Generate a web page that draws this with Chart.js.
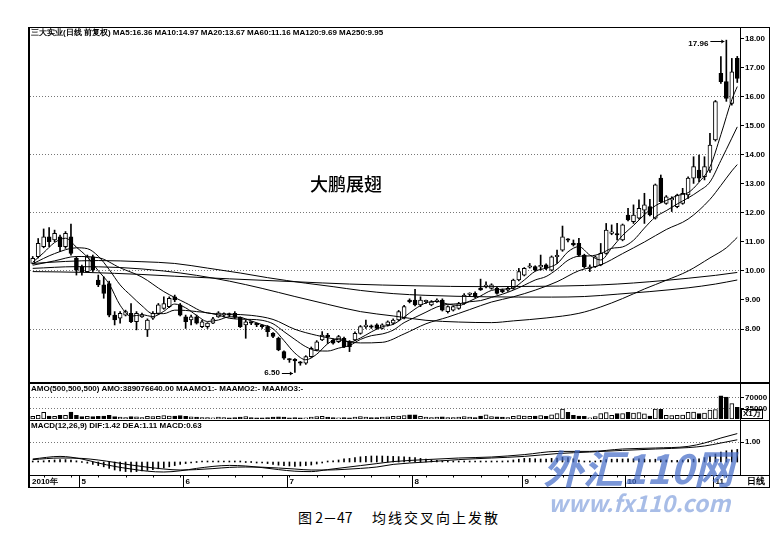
<!DOCTYPE html>
<html>
<head>
<meta charset="utf-8">
<title>均线交叉向上发散</title>
<script src="https://cdn.jsdelivr.net/npm/chart.js@4.4.1/dist/chart.umd.min.js"></script>
<style>
  html, body { margin: 0; padding: 0; background: #fff; }
  body { width: 781px; height: 560px; position: relative; overflow: hidden; font-family: "Liberation Sans", Arial, sans-serif; }
  canvas { position: absolute; left: 0; }
  .t { position: absolute; white-space: nowrap; color: #000; }
  .hdr { font-size: 8px; font-weight: bold; line-height: 10px; }
  .ln { position: absolute; background: #000; }
  .wm { position: absolute; white-space: nowrap; color: rgba(70, 110, 200, 0.72); font-family: "Noto Sans CJK SC", sans-serif; font-weight: bold; font-style: italic; }
</style>
</head>
<body>
<canvas id="mainChart" width="770" height="355" style="top:28px"></canvas>
<canvas id="volChart" width="770" height="37" style="top:383px"></canvas>
<canvas id="macdChart" width="770" height="68" style="top:420px"></canvas>

<!-- frame -->
<div class="ln" style="left:28px;top:27px;width:2px;height:461px"></div>
<div class="ln" style="left:28px;top:27px;width:742px;height:1px"></div>
<div class="ln" style="left:769px;top:27px;width:1px;height:461px"></div>
<div class="ln" style="left:28px;top:487px;width:742px;height:1px"></div>
<div class="ln" style="left:28px;top:382px;width:742px;height:2px"></div>
<div class="ln" style="left:28px;top:420px;width:742px;height:1px"></div>
<div class="ln" style="left:28px;top:475px;width:742px;height:1px"></div>

<div class="t hdr" style="left:31px;top:28px">三大实业(日线 前复权) MA5:16.36 MA10:14.97 MA20:13.67 MA60:11.16 MA120:9.69 MA250:9.95</div>
<div class="t hdr" style="left:31px;top:384px">AMO(500,500,500) AMO:389076640.00 MAAMO1:- MAAMO2:- MAAMO3:-</div>
<div class="t hdr" style="left:31px;top:421px">MACD(12,26,9) DIF:1.42 DEA:1.11 MACD:0.63</div>
<div class="t" style="left:741px;top:409px;font-size:8px;font-weight:bold;border:1px solid #000;padding:0 1px;line-height:8px">X1万</div>
<div class="t" style="left:747px;top:476px;font-size:9px;font-weight:bold;line-height:11px">日线</div>
<div class="t" style="left:310px;top:172px;font-size:18px;font-family:'Noto Sans CJK SC',sans-serif;font-weight:500;line-height:22px">大鹏展翅</div>
<div class="t" style="left:298px;top:507px;font-size:14px;font-family:'Noto Sans CJK SC',sans-serif;line-height:20px">图 2－47</div>
<div class="t" style="left:372px;top:507px;font-size:14px;font-family:'Noto Sans CJK SC',sans-serif;line-height:20px;letter-spacing:2px">均线交叉向上发散</div>
<div class="wm" style="left:543px;top:442px;font-size:40px;line-height:50px">外汇110网</div>
<div class="wm" style="left:548px;top:489px;font-size:23px;line-height:26px;color:rgba(110,145,215,0.6)">www.fx110.com</div>

<script>
// daily candles, 2010-04 .. 2010-11 (prices in yuan)
const opens = [
  10.26, 10.49, 10.84, 11.18, 11.07, 11.18, 10.84, 11.18, 10.44, 10.15,
  9.98, 10.49, 9.69, 9.52, 9.57, 8.48, 8.37, 8.48, 8.54, 8.25,
  8.42, 7.97, 8.37, 8.54, 8.71, 8.77, 9.11, 8.83, 8.42, 8.31,
  8.42, 8.08, 8.08, 8.20, 8.42, 8.48, 8.50, 8.54, 8.40, 8.14,
  8.22, 8.16, 8.10, 8.08, 7.85, 7.68, 7.22, 6.95, 6.95, 6.83,
  6.82, 7.05, 7.28, 7.62, 7.74, 7.62, 7.56, 7.68, 7.56, 7.62,
  7.85, 8.08, 8.08, 8.14, 8.02, 8.14, 8.20, 8.31, 8.37, 9.00,
  9.00, 8.83, 8.94, 8.83, 8.94, 9.00, 8.60, 8.65, 8.71, 8.88,
  9.19, 9.23, 9.40, 9.46, 9.40, 9.40, 9.34, 9.34, 9.40, 9.69,
  9.86, 10.13, 10.15, 10.14, 10.21, 10.03, 10.49, 10.72, 11.08, 10.92,
  10.95, 10.55, 10.09, 10.15, 10.21, 10.61, 11.30, 11.25, 11.07, 11.93,
  11.70, 11.82, 12.10, 12.22, 11.82, 13.20, 12.33, 12.45, 12.22, 12.33,
  12.62, 13.20, 13.48, 13.25, 13.48, 14.52, 16.82, 16.53, 15.78, 17.33
];
const highs = [
  10.50, 11.12, 11.45, 11.50, 11.41, 11.24, 11.36, 11.62, 10.49, 10.20,
  10.55, 10.55, 9.86, 9.80, 9.65, 8.60, 8.60, 8.65, 8.88, 8.60,
  8.55, 8.35, 8.60, 8.88, 9.11, 9.11, 9.17, 8.88, 8.48, 8.48,
  8.48, 8.30, 8.22, 8.40, 8.60, 8.56, 8.55, 8.60, 8.42, 8.30,
  8.25, 8.20, 8.14, 8.12, 7.88, 7.72, 7.25, 6.98, 6.98, 6.88,
  7.08, 7.38, 7.60, 7.91, 7.85, 7.66, 7.78, 7.72, 7.60, 7.90,
  8.12, 8.31, 8.14, 8.18, 8.18, 8.28, 8.35, 8.64, 8.82, 9.04,
  9.37, 9.11, 9.00, 8.98, 9.04, 9.04, 8.80, 8.80, 8.92, 9.22,
  9.25, 9.28, 9.72, 9.63, 9.56, 9.44, 9.38, 9.44, 9.72, 10.09,
  10.12, 10.26, 10.18, 10.55, 10.25, 10.52, 10.72, 11.55, 11.12, 11.07,
  11.13, 10.58, 10.21, 10.52, 10.95, 11.64, 11.59, 11.64, 11.62, 12.16,
  12.28, 12.45, 12.68, 12.47, 13.00, 13.31, 12.60, 12.56, 12.65, 12.85,
  13.25, 13.94, 14.00, 13.94, 14.75, 15.88, 17.39, 17.96, 17.33, 17.40
];
const lows = [
  10.24, 10.45, 10.80, 10.84, 11.01, 10.67, 10.78, 10.55, 9.86, 9.86,
  9.95, 9.98, 9.46, 9.06, 8.42, 8.14, 8.20, 8.45, 8.22, 7.97,
  8.40, 7.74, 8.33, 8.50, 8.68, 8.74, 8.94, 8.45, 8.02, 8.14,
  8.17, 8.05, 8.02, 8.18, 8.40, 8.42, 8.42, 8.36, 8.05, 7.68,
  8.15, 8.08, 8.02, 7.74, 7.70, 7.25, 6.95, 6.85, 6.50, 6.75,
  6.78, 7.02, 7.25, 7.60, 7.50, 7.48, 7.53, 7.36, 7.22, 7.60,
  7.82, 8.02, 8.02, 7.99, 8.00, 8.10, 8.16, 8.28, 8.35, 8.90,
  8.80, 8.77, 8.88, 8.80, 8.92, 8.62, 8.55, 8.62, 8.68, 8.85,
  9.14, 9.08, 9.33, 9.42, 9.37, 9.20, 9.25, 9.30, 9.37, 9.66,
  9.83, 10.10, 10.00, 10.03, 10.05, 10.00, 10.26, 10.68, 11.00, 10.86,
  10.50, 10.10, 9.98, 10.12, 10.18, 10.58, 11.25, 11.07, 11.04, 11.73,
  11.64, 11.79, 11.64, 11.90, 11.79, 12.35, 12.30, 12.05, 12.18, 12.30,
  12.50, 13.02, 13.08, 13.14, 13.40, 14.48, 16.47, 15.85, 15.72, 16.50
];
const closes = [
  10.44, 10.95, 11.18, 11.01, 11.30, 10.84, 11.30, 10.61, 10.03, 9.98,
  10.49, 10.03, 9.52, 9.23, 8.48, 8.31, 8.54, 8.60, 8.25, 8.54,
  8.50, 8.31, 8.54, 8.83, 8.88, 9.06, 9.00, 8.48, 8.25, 8.42,
  8.20, 8.25, 8.20, 8.35, 8.56, 8.50, 8.48, 8.40, 8.08, 8.25,
  8.20, 8.14, 8.08, 7.91, 7.74, 7.28, 6.99, 6.93, 6.90, 6.82,
  7.05, 7.33, 7.56, 7.79, 7.73, 7.51, 7.74, 7.39, 7.39, 7.85,
  8.08, 8.10, 8.06, 8.02, 8.14, 8.25, 8.31, 8.60, 8.77, 8.94,
  8.83, 9.00, 8.96, 8.94, 9.00, 8.65, 8.77, 8.77, 8.88, 9.17,
  9.20, 9.11, 9.35, 9.47, 9.52, 9.23, 9.28, 9.40, 9.69, 9.98,
  10.09, 10.15, 10.03, 10.16, 10.09, 10.49, 10.50, 11.18, 11.06, 10.90,
  10.55, 10.15, 10.10, 10.49, 10.61, 11.41, 11.32, 11.24, 11.59, 11.76,
  11.93, 12.16, 12.28, 11.93, 12.97, 12.39, 12.56, 12.46, 12.62, 12.68,
  13.20, 13.60, 13.20, 13.60, 14.34, 15.84, 16.53, 15.95, 16.87, 16.64
];

// moving averages as [candle index, value]
const ma5Pts = [[0,10.30],[2,10.63],[4,10.98],[6,11.13],[8,10.82],[10,10.48],[12,10.01],[14,9.55],[16,8.82],[18,8.44],[20,8.49],[22,8.43],[24,8.61],[26,8.86],[28,8.73],[30,8.47],[32,8.26],[34,8.31],[36,8.42],[38,8.40],[40,8.28],[42,8.15],[44,8.01],[46,7.60],[48,7.17],[50,6.94],[52,7.13],[54,7.49],[56,7.67],[58,7.55],[60,7.69],[62,7.90],[64,8.08],[66,8.16],[68,8.41],[70,8.69],[72,8.90],[74,8.95],[76,8.86],[78,8.81],[80,8.96],[82,9.14],[84,9.33],[86,9.37],[88,9.42],[90,9.69],[92,9.99],[94,10.10],[96,10.25],[98,10.66],[100,10.84],[102,10.55],[104,10.38],[106,10.79],[108,11.23],[110,11.57],[112,11.94],[114,12.25],[116,12.43],[118,12.60],[120,12.70],[122,13.06],[124,13.59],[126,14.70],[128,15.91],[129,16.36]];
const ma10Pts = [[0,10.25],[4,10.60],[8,10.80],[10,10.77],[12,10.51],[14,10.05],[16,9.52],[18,9.15],[20,8.80],[22,8.53],[24,8.53],[26,8.65],[28,8.64],[30,8.60],[32,8.56],[34,8.48],[36,8.37],[38,8.34],[40,8.33],[42,8.30],[44,8.18],[46,7.91],[48,7.64],[50,7.39],[52,7.25],[54,7.24],[56,7.34],[58,7.43],[60,7.64],[62,7.77],[64,7.83],[66,7.96],[68,8.22],[70,8.40],[72,8.58],[74,8.76],[76,8.85],[78,8.87],[80,8.94],[82,8.98],[84,9.09],[86,9.20],[88,9.34],[90,9.51],[92,9.69],[94,9.81],[96,10.06],[98,10.37],[100,10.51],[102,10.52],[104,10.60],[106,10.78],[108,10.83],[110,11.06],[112,11.48],[114,11.86],[116,12.08],[118,12.31],[120,12.52],[122,12.76],[124,13.07],[126,13.81],[128,14.58],[129,14.97]];
const ma20Pts = [[0,10.20],[4,10.35],[8,10.50],[12,10.46],[16,10.11],[20,9.79],[24,9.29],[28,8.90],[32,8.55],[36,8.51],[40,8.47],[44,8.33],[48,7.99],[52,7.78],[56,7.63],[60,7.52],[64,7.54],[68,7.83],[72,8.18],[76,8.41],[80,8.67],[84,8.93],[88,9.11],[92,9.34],[96,9.63],[100,10.01],[104,10.21],[108,10.60],[112,11.00],[116,11.43],[120,11.79],[124,12.47],[126,12.95],[128,13.45],[129,13.67]];
const ma60Pts = [[0,10.09],[8,10.15],[16,10.12],[24,10.00],[30,9.85],[36,9.65],[42,9.40],[48,9.12],[54,8.85],[60,8.60],[66,8.45],[72,8.30],[78,8.24],[84,8.22],[88,8.28],[94,8.38],[100,8.54],[104,8.76],[108,9.05],[112,9.38],[116,9.68],[120,10.00],[124,10.45],[127,10.80],[129,11.16]];
const ma120Pts = [[0,10.26],[6,10.33],[12,10.36],[20,10.32],[26,10.26],[32,10.10],[38,9.93],[43,9.77],[50,9.58],[55,9.46],[60,9.33],[66,9.22],[72,9.16],[83,9.11],[95,9.10],[101,9.12],[107,9.20],[113,9.29],[120,9.42],[125,9.55],[129,9.69]];
const ma250Pts = [[0,9.98],[10,9.95],[20,9.88],[26,9.82],[36,9.73],[48,9.63],[58,9.55],[70,9.49],[83,9.46],[92,9.47],[101,9.50],[107,9.55],[113,9.63],[120,9.75],[125,9.85],[129,9.95]];

// turnover in units of 10 000 yuan
const amounts = [
  9000, 12000, 22000, 10000, 9000, 12000, 12000, 23000, 12000, 8000,
  9000, 8000, 9000, 10000, 12000, 8000, 6000, 5000, 8000, 7000,
  5000, 9000, 8000, 9000, 11000, 10000, 10000, 11000, 9000, 7000,
  6000, 5000, 5000, 4000, 6000, 5000, 4000, 5000, 6000, 8000,
  5000, 4000, 4000, 5000, 6000, 7000, 6000, 4000, 5000, 4000,
  4000, 6000, 8000, 9000, 6000, 5000, 4000, 5000, 4000, 6000,
  8000, 6000, 5000, 5000, 6000, 7000, 9000, 10000, 11000, 14000,
  14000, 9000, 6000, 5000, 6000, 7000, 5000, 5000, 6000, 8000,
  6000, 5000, 10000, 14000, 8000, 7000, 6000, 5000, 9000, 11000,
  10000, 9000, 10000, 11000, 9000, 14000, 18000, 33000, 22000, 12000,
  10000, 9000, 4000, 8000, 18000, 21000, 12000, 18000, 18000, 22000,
  20000, 21000, 17000, 10000, 33000, 32000, 12000, 11000, 12000, 13000,
  22000, 23000, 18000, 20000, 30000, 31000, 77000, 73000, 51000, 38908
];

// MACD(12,26,9)
const difPts = [[0,0.15],[5,0.28],[9,0.15],[12,-0.05],[15,-0.22],[18,-0.35],[21,-0.46],[24,-0.50],[27,-0.44],[30,-0.32],[33,-0.22],[36,-0.17],[39,-0.20],[42,-0.28],[45,-0.38],[48,-0.46],[51,-0.48],[54,-0.38],[57,-0.28],[60,-0.18],[63,-0.08],[66,0.02],[72,0.12],[78,0.20],[84,0.25],[90,0.37],[96,0.53],[102,0.53],[108,0.65],[114,0.70],[120,0.78],[123,0.95],[126,1.20],[129,1.42]];
const deaPts = [[0,0.12],[5,0.20],[9,0.18],[12,0.10],[15,-0.02],[18,-0.15],[21,-0.26],[24,-0.35],[27,-0.40],[30,-0.38],[33,-0.33],[36,-0.27],[39,-0.25],[42,-0.26],[45,-0.30],[48,-0.35],[51,-0.40],[54,-0.40],[57,-0.37],[60,-0.32],[63,-0.25],[66,-0.12],[72,0.00],[78,0.12],[84,0.20],[90,0.28],[96,0.42],[102,0.50],[108,0.58],[114,0.65],[120,0.72],[123,0.80],[126,0.95],[129,1.11]];
const macdBars = [
  0.05, 0.05, 0.06, 0.08, 0.10, 0.12, 0.12, 0.10, 0.06, 0.00,
  -0.06, -0.12, -0.18, -0.24, -0.32, -0.40, -0.45, -0.48, -0.50, -0.48,
  -0.45, -0.42, -0.38, -0.34, -0.30, -0.24, -0.18, -0.12, -0.08, -0.04,
  0.00, 0.02, 0.03, 0.04, 0.04, 0.04, 0.03, 0.02, 0.01, 0.00,
  0.00, -0.02, -0.04, -0.08, -0.12, -0.16, -0.18, -0.20, -0.22, -0.20,
  -0.18, -0.15, -0.10, -0.04, 0.02, 0.06, 0.10, 0.16, 0.18, 0.22,
  0.26, 0.28, 0.30, 0.30, 0.30, 0.29, 0.28, 0.27, 0.26, 0.24,
  0.22, 0.18, 0.14, 0.10, 0.08, 0.06, 0.05, 0.05, 0.04, 0.04,
  0.04, 0.04, 0.05, 0.05, 0.04, 0.04, 0.05, 0.06, 0.10, 0.14,
  0.18, 0.18, 0.16, 0.15, 0.15, 0.18, 0.20, 0.24, 0.22, 0.16,
  0.10, 0.05, 0.02, 0.04, 0.08, 0.12, 0.14, 0.14, 0.15, 0.16,
  0.16, 0.16, 0.15, 0.12, 0.14, 0.12, 0.10, 0.08, 0.08, 0.10,
  0.12, 0.14, 0.16, 0.22, 0.30, 0.40, 0.50, 0.56, 0.60, 0.63
];

// axis labels
const priceTicks = [8, 9, 10, 11, 12, 13, 14, 15, 16, 17, 18];
const priceGrid = [8, 10, 12, 14, 16];
const amountTicks = [35000, 70000];
const macdTicks = [1];
const yearLabel = '2010年';
const monthStarts = [9, 28, 47, 70, 90, 109, 125];
const monthLabels = ['5', '6', '7', '8', '9', '10', '11'];

const days = closes.map((_, i) => i);
const isUp = closes.map((c, i) => c >= opens[i]);
const toXY = pts => pts.map(([x, y]) => ({ x: x, y: y }));

Chart.defaults.font.family = '"Liberation Sans", Arial, sans-serif';

const axisFont = { size: 8, weight: 'bold' };
function rightAxis(min, max, tickVals, gridVals, fmt) {
    return {
        position: 'right',
        min: min,
        max: max,
        afterBuildTicks: s => { s.ticks = tickVals.map(v => ({ value: v })); },
        afterFit: s => { s.width = 30; s.paddingTop = 0; s.paddingBottom = 0; },
        ticks: { font: axisFont, color: '#000', padding: 1, callback: fmt },
        grid: {
            color: c => gridVals.includes(c.tick && c.tick.value) ? '#777' : 'rgba(0,0,0,0)',
            tickLength: 4,
            tickColor: '#000',
            lineWidth: 1
        },
        border: { display: true, color: '#000', width: 1, dash: [1, 2] }
    };
}

function baseOptions(bottomPad) {
    return {
        responsive: false,
        animation: false,
        events: [],
        layout: { padding: { left: 30, right: 0, top: 0, bottom: bottomPad } },
        plugins: { legend: { display: false }, tooltip: { enabled: false } }
    };
}

function maLine(pts) {
    return {
        type: 'line',
        data: toXY(pts),
        borderColor: '#000',
        borderWidth: 1,
        pointRadius: 0,
        cubicInterpolationMode: 'monotone',
        order: -1
    };
}

// marks the highest high and lowest low with a value and an arrow
const extremaPlugin = {
    id: 'extrema',
    afterDatasetsDraw(chart) {
        const { ctx, scales: { x, y } } = chart;
        const hi = Math.max(...highs), hiIdx = highs.indexOf(hi);
        const lo = Math.min(...lows), loIdx = lows.indexOf(lo);
        ctx.save();
        ctx.fillStyle = '#000';
        ctx.strokeStyle = '#000';
        ctx.lineWidth = 1;
        ctx.font = 'bold 8px "Liberation Sans"';
        ctx.textBaseline = 'middle';
        ctx.textAlign = 'right';
        const arrow = (x1, x2, yy) => {
            ctx.beginPath(); ctx.moveTo(x1, yy); ctx.lineTo(x2, yy); ctx.stroke();
            ctx.beginPath(); ctx.moveTo(x2, yy); ctx.lineTo(x2 - 3, yy - 2); ctx.lineTo(x2 - 3, yy + 2); ctx.closePath(); ctx.fill();
        };
        let px = x.getPixelForValue(hiIdx), py = y.getPixelForValue(hi);
        ctx.fillText(hi.toFixed(2), px - 18, py + 4);
        arrow(px - 16, px - 2, Math.round(py) + 1.5);
        px = x.getPixelForValue(loIdx); py = y.getPixelForValue(lo);
        ctx.fillText(lo.toFixed(2), px - 15, py);
        arrow(px - 13, px - 2, Math.round(py) + 0.5);
        ctx.restore();
    }
};

// date strip under the MACD panel
const stripPlugin = {
    id: 'strip',
    afterDraw(chart) {
        const { ctx, chartArea, scales: { x } } = chart;
        const top = chartArea.bottom + 0.5;
        const bottom = chart.height - 1;
        const mid = (top + bottom) / 2 + 0.5;
        const step = x.getPixelForValue(1) - x.getPixelForValue(0);
        ctx.save();
        ctx.strokeStyle = '#000';
        ctx.lineWidth = 1;
        for (let i = 2; i < days.length; i += 5) {
            const px = Math.round(x.getPixelForValue(i)) + 0.5;
            ctx.beginPath(); ctx.moveTo(px, top); ctx.lineTo(px, top + 2); ctx.stroke();
        }
        ctx.font = 'bold 8px "Liberation Sans"';
        ctx.fillStyle = '#000';
        ctx.textBaseline = 'middle';
        ctx.textAlign = 'left';
        ctx.fillText(yearLabel, chartArea.left + 2, mid);
        monthStarts.forEach((idx, k) => {
            const px = Math.round(x.getPixelForValue(idx) - step / 2) + 0.5;
            ctx.beginPath(); ctx.moveTo(px, top); ctx.lineTo(px, bottom); ctx.stroke();
            ctx.fillText(monthLabels[k], px + 2, mid);
        });
        ctx.restore();
    }
};

const xHidden = { type: 'category', offset: true, display: false };

new Chart(document.getElementById('mainChart'), {
    type: 'bar',
    data: {
        labels: days,
        datasets: [
            maLine(ma5Pts), maLine(ma10Pts), maLine(ma20Pts),
            maLine(ma60Pts), maLine(ma120Pts), maLine(ma250Pts),
            {
                data: opens.map((o, i) => [Math.min(o, closes[i]), Math.max(o, closes[i])]),
                backgroundColor: isUp.map(u => u ? '#fff' : '#000'),
                borderColor: '#000',
                borderWidth: 1,
                borderSkipped: false,
                barThickness: 4,
                minBarLength: 1.5,
                grouped: false,
                order: 0
            },
            {
                data: lows.map((l, i) => [l, highs[i]]),
                backgroundColor: '#000',
                borderWidth: 0,
                barThickness: 1,
                grouped: false,
                order: 1
            }
        ]
    },
    options: Object.assign(baseOptions(0), {
        scales: {
            x: xHidden,
            y: rightAxis(6.138, 18.379, priceTicks, priceGrid, v => Number(v).toFixed(2))
        }
    }),
    plugins: [extremaPlugin]
});

new Chart(document.getElementById('volChart'), {
    type: 'bar',
    data: {
        labels: days,
        datasets: [{
            data: amounts,
            backgroundColor: isUp.map(u => u ? '#fff' : '#000'),
            borderColor: '#000',
            borderWidth: 1,
            borderSkipped: false,
            barThickness: 4
        }]
    },
    options: Object.assign(baseOptions(1), {
        scales: {
            x: xHidden,
            y: rightAxis(0, 120000, amountTicks, amountTicks, v => String(v))
        }
    })
});

new Chart(document.getElementById('macdChart'), {
    type: 'bar',
    data: {
        labels: days,
        datasets: [
            maLine(difPts),
            maLine(deaPts),
            {
                data: macdBars,
                backgroundColor: '#000',
                borderWidth: 0,
                barThickness: 1,
                minBarLength: 1,
                order: 1
            }
        ]
    },
    options: Object.assign(baseOptions(13), {
        scales: {
            x: xHidden,
            y: rightAxis(-0.65, 2.1, macdTicks, macdTicks, v => Number(v).toFixed(2))
        }
    }),
    plugins: [stripPlugin]
});
</script>
</body>
</html>
